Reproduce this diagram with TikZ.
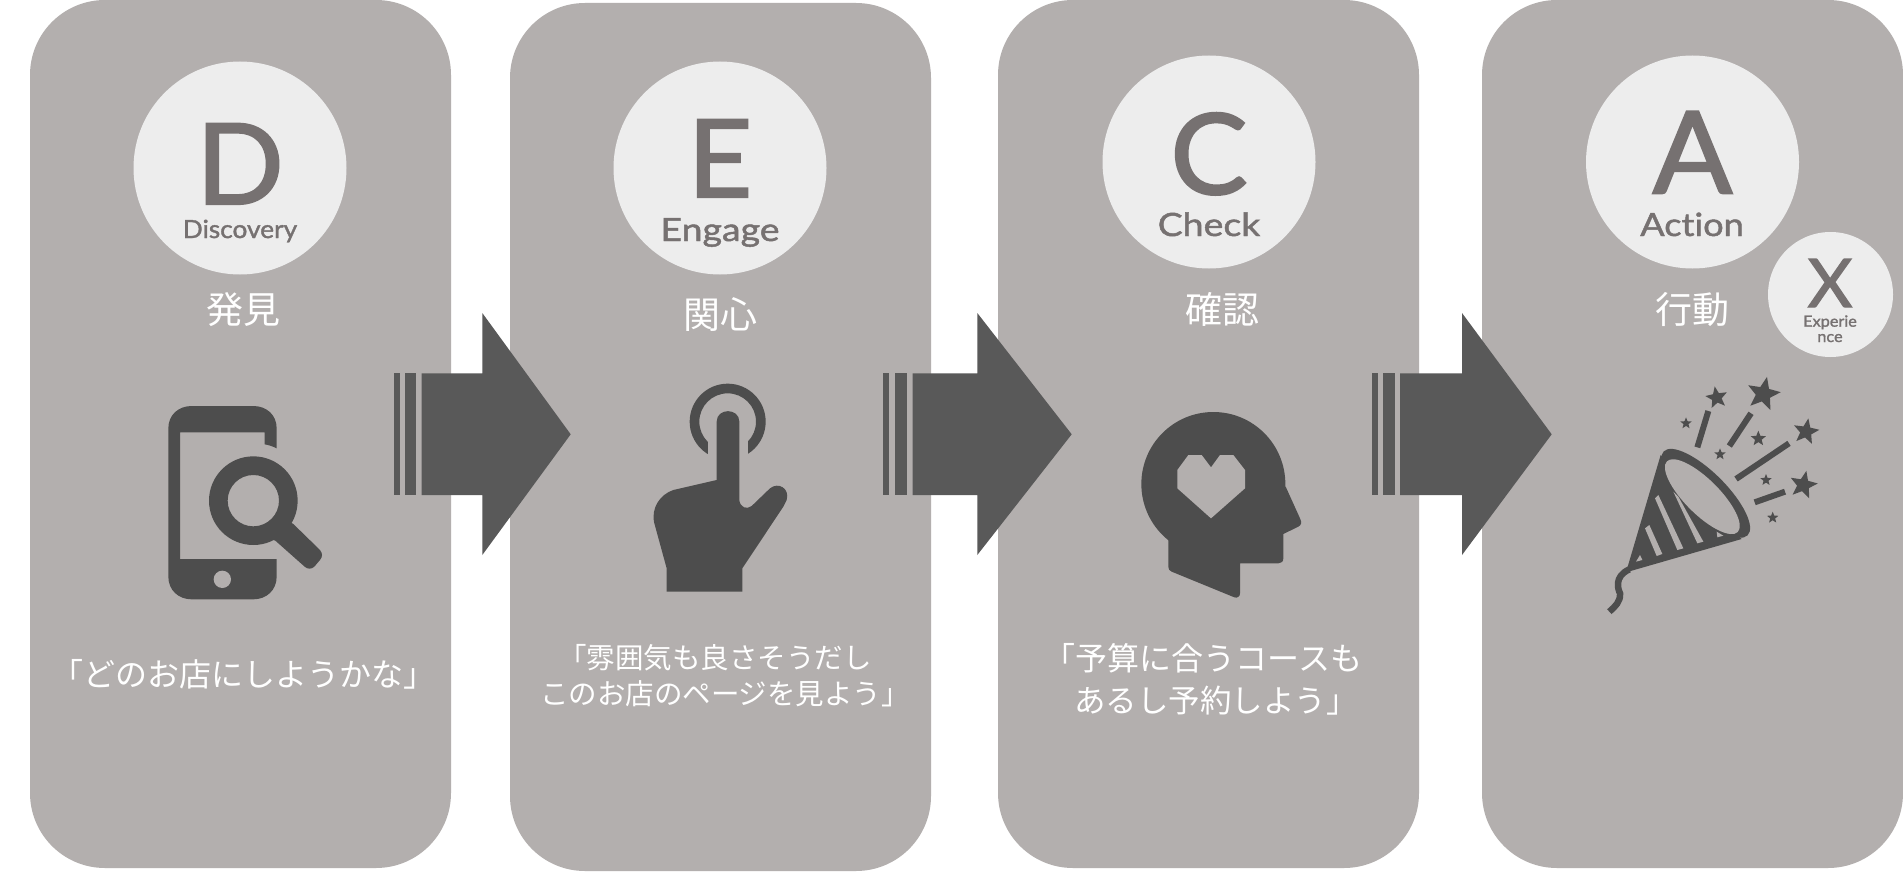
\documentclass[tikz,border=0pt]{standalone}
\usepackage{fontspec}
\setmainfont{Lato}
\newfontfamily\jpfont{Noto Sans CJK JP}
\newfontfamily\bigfont[FakeBold=2,FakeStretch=1.03,Ligatures=NoCommon]{Lato}
\newfontfamily\wordA[FakeBold=1.5,FakeStretch=1.05,Ligatures=NoCommon]{Lato}
\newfontfamily\wordB[FakeBold=1.5,FakeStretch=1.13,Ligatures=NoCommon]{Lato}
\newfontfamily\wordC[FakeBold=1.5,FakeStretch=1.17,Ligatures=NoCommon]{Lato}
\usetikzlibrary{shapes.geometric}
\definecolor{panelc}{HTML}{B3AFAE}
\definecolor{circlec}{HTML}{EDEDED}
\definecolor{letterc}{HTML}{767171}
\definecolor{iconc}{HTML}{4D4D4D}
\definecolor{arrowc}{HTML}{595959}
\tikzset{
  panelbox/.style={fill=panelc,rounded corners=75pt},
  badge/.style={circle,fill=circlec,inner sep=0pt,minimum size=#1},
  bigletter/.style={anchor=base,text=letterc,inner sep=0pt,font=\fontsize{#1}{#1}\selectfont\bigfont},
  smallword/.style={anchor=base,text=letterc,inner sep=0pt,font=\fontsize{#1}{#1}\selectfont},
  jptext/.style={anchor=base,text=white,inner sep=0pt,font=\fontsize{#1}{#1}\selectfont\jpfont},
  popstar/.style={star,star points=5,star point ratio=2.3,fill=iconc,inner sep=0pt,minimum size=#1},
  iconzoom/.style={x=0.33333pt,y=-0.33333pt},
}
\newcommand{\bigarrow}[8]{%
  \fill[arrowc] (#1,373.3) rectangle (#2,495);
  \fill[arrowc] (#3,373.3) rectangle (#4,495);
  \fill[arrowc] (#5,373.3) -- (#6,373.3) -- (#6,313) -- (#7,434.3) -- (#6,555) -- (#6,495) -- (#5,495) -- cycle;
}
\begin{document}
\begin{tikzpicture}[x=1pt,y=-1pt]
\useasboundingbox (0,0) rectangle (1903,872);
\fill[white] (0,0) rectangle (1903,872);
% panels
\fill[panelbox] (30,0) rectangle (451,868);
\fill[panelbox] (510,3) rectangle (931,871);
\fill[panelbox] (998,0) rectangle (1419,868);
\fill[panelbox] (1482,0) rectangle (1903,868);
% arrows
\bigarrow{394}{399.5}{405}{416}{421.5}{482.3}{570.7}{}
\bigarrow{883}{889}{895}{906.7}{912.7}{977.3}{1071.7}{}
\bigarrow{1372}{1377.7}{1383}{1394.7}{1400}{1462}{1551.7}{}
% badges
\node[badge=213pt] (cd) at (240,168) {};
\node[badge=213pt] (ce) at (720,168) {};
\node[badge=213pt] (cc) at (1209,162) {};
\node[badge=213pt] (ca) at (1692.5,162) {};
\node[badge=125pt] (cx) at (1830.5,294.5) {};
% letters
\node[bigletter=112pt] (ld) at (240,204) {D};
\node[smallword=25pt] (wd) at (240,238) {\wordA Discovery};
\node[bigletter=108pt] (le) at (720,197) {E};
\node[smallword=32pt] (we) at (720,241) {\wordC Engage};
\node[bigletter=112pt] (lc) at (1209,194) {C};
\node[smallword=32pt] (wc) at (1209,236) {\wordC Check};
\node[bigletter=114pt] (la) at (1692.5,193.3) {A};
\node[smallword=32pt] (wa) at (1692,236) {\wordB Action};
\node[bigletter=67pt] (lx) at (1830,307) {X};
\node[smallword=15.5pt] (wx1) at (1830,326.7) {\wordA Experie};
\node[smallword=15.5pt] (wx2) at (1830,342) {\wordA nce};
% Japanese headings
\node[jptext=37pt] (h1) at (243,323) {発見};
\node[jptext=37pt] (h2) at (720,328) {関心};
\node[jptext=37pt] (h3) at (1222,323) {確認};
\node[jptext=37pt] (h4) at (1692,323) {行動};
% bodies
\node[jptext=32pt] (b1) at (243,686) {「どのお店にしようかな」};
\node[jptext=28.5pt] (b2a) at (715,668) {「雰囲気も良さそうだし};
\node[jptext=28.5pt] (b2b) at (725,704) {このお店のページを見よう」};
\node[jptext=32pt] (b3a) at (1203,670) {「予算に合うコースも};
\node[jptext=31.5pt] (b3b) at (1216,712) {あるし予約しよう」};
% phone icon
\begin{scope}[shift={(130,380)},iconzoom]
\fill[iconc,even odd rule]
  (115,145) .. controls (115,105) and (145,78) .. (185,78) -- (370,78)
  .. controls (410,78) and (440,105) .. (440,145) -- (440,205)
  .. controls (428,199) and (416,195) .. (404,193) -- (404,157) -- (150,157) -- (150,537) -- (440,537) -- (440,590)
  .. controls (440,630) and (410,658) .. (370,658) -- (185,658)
  .. controls (145,658) and (115,630) .. (115,590) -- cycle;
\fill[panelc] (277,598) circle (26);
\fill[iconc,even odd rule] (370,362) circle (133) (370,362) circle (77);
\fill[iconc] (425,478) -- (478,425) -- (490,432) -- (570,510) .. controls (578,520) and (578,530) .. (570,540)
  -- (553,560) .. controls (545,568) and (532,568) .. (524,560) -- (436,482) -- cycle;
\end{scope}
% hand icon
\begin{scope}[shift={(620,360)},iconzoom]
\fill[iconc,even odd rule] (323,185) circle (114) (323,185) circle (85);
\fill[panelc] (265,225) rectangle (384,305);
\fill[iconc] (290,360) -- (290,185) .. controls (290,143) and (358,143) .. (358,185) -- (358,420)
  .. controls (360,442) and (380,450) .. (395,438) -- (450,385)
  .. controls (475,365) and (510,385) .. (500,420) -- (490,440) -- (367,625) -- (367,695) -- (140,695) -- (140,625) -- (103,490)
  .. controls (92,445) and (120,403) .. (160,390) -- cycle;
\end{scope}
% head icon
\begin{scope}[shift={(1120,390)},iconzoom]
\fill[iconc] (280,282) circle (216);
\fill[iconc] (145,400) -- (497,290) -- (540,385) .. controls (546,398) and (544,405) .. (535,410) -- (490,432) -- (490,505)
  .. controls (490,515) and (484,520) .. (475,520) -- (360,520) -- (360,610)
  .. controls (360,620) and (352,625) .. (343,622) -- (155,545) .. controls (148,542) and (145,538) .. (145,530) -- cycle;
\fill[panelc] (172,240) -- (205,195) -- (245,195) -- (273,232) -- (300,195) -- (340,195) -- (375,240) -- (375,295) -- (273,385) -- (172,295) -- cycle;
\end{scope}
% party popper icon
\begin{scope}[shift={(1590,360)},iconzoom]
\draw[iconc,line width=6.5pt] (118,628) .. controls (70,650) and (85,690) .. (90,700) .. controls (92,725) and (75,740) .. (58,755);
\fill[iconc] (108,637) -- (212,285) -- (455,537) -- cycle;
\fill[iconc,rotate around={-45:(347,400)}] (347,400) ellipse (178 and 62);
\fill[panelc,rotate around={-45:(337,410)}] (337,410) ellipse (150 and 52);
\fill[panelc] (195,415) -- (205,405) -- (280,565) -- (262,570) -- cycle;
\fill[panelc] (165,505) -- (178,495) -- (217,582) -- (200,588) -- cycle;
\fill[panelc] (138,605) -- (150,585) -- (157,600) -- cycle;
\fill[panelc] (250,395) -- (265,410) -- (340,545) -- (322,550) -- cycle;
\fill[panelc] (380,515) -- (400,527) -- (382,532) -- cycle;
\draw[iconc,line width=6pt] (355,153) -- (322,262);
\draw[iconc,line width=6pt] (483,160) -- (418,258);
\draw[iconc,line width=6pt] (597,250) -- (438,357);
\draw[iconc,line width=6pt] (585,395) -- (494,427);
\node[popstar=35pt,rotate=-12] (s1) at (520,102) {};
\node[popstar=23pt,rotate=10] (s2) at (380,113) {};
\node[popstar=27pt,rotate=-10] (s3) at (648,215) {};
\node[popstar=29pt,rotate=-12] (s4) at (640,375) {};
\node[popstar=12pt] (s5) at (288,190) {};
\node[popstar=16pt] (s6) at (505,236) {};
\node[popstar=12pt] (s7) at (390,283) {};
\node[popstar=12pt] (s8) at (528,360) {};
\node[popstar=12pt] (s9) at (548,473) {};
\end{scope}
\end{tikzpicture}
\end{document}
